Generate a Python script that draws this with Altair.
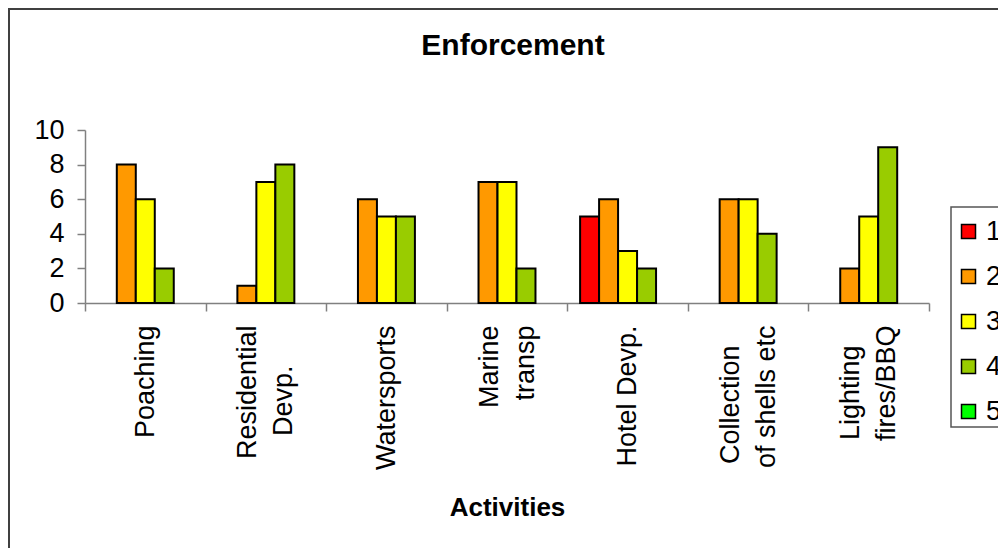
import json
import altair as alt
import pandas as pd

title_text = "Enforcement"
categories = ["Poaching", "Residential\nDevp.", "Watersports", "Marine\ntransp",
              "Hotel Devp.", "Collection\nof shells etc", "Lighting\nfires/BBQ"]
series = ["1", "2", "3", "4", "5"]
s1 = [0, 0, 0, 0, 5, 0, 0]
s2 = [8, 1, 6, 7, 6, 6, 2]
s3 = [6, 7, 5, 7, 3, 6, 5]
s4 = [2, 8, 5, 2, 2, 4, 9]
s5 = [0, 0, 0, 0, 0, 0, 0]
colors = ["#FF0000", "#FF9900", "#FFFF00", "#99CC00", "#00FF00"]
y_ticks = [0, 2, 4, 6, 8, 10]

rows = []
for name, vals in zip(series, [s1, s2, s3, s4, s5]):
    for c, v in zip(categories, vals):
        rows.append({"Activity": c, "Series": name, "Value": v})
df = pd.DataFrame(rows)

FONT = "Liberation Sans"
BLANK = "\u2800"   # blank glyph used to centre the shorter wrapped line
ZWSP = "\u200b"

# approximate Arial advance widths (1/1000 em) used to centre wrapped label lines
_w = {" ": 278, ".": 278, "/": 278, "a": 556, "b": 556, "c": 500, "d": 556, "e": 556,
      "f": 278, "g": 556, "h": 556, "i": 222, "l": 222, "m": 833, "n": 556, "o": 556,
      "p": 556, "r": 333, "s": 500, "t": 278, "v": 500, "B": 667, "C": 722, "D": 722,
      "H": 722, "L": 556, "M": 833, "P": 667, "Q": 778, "R": 722, "W": 944}


def text_w(s):
    return sum(_w.get(ch, 556) for ch in s)


label_lines = {}
for c in categories:
    parts = c.split("\n")
    if len(parts) == 1:
        label_lines[c] = ["", parts[0]]
    else:
        wmax = max(text_w(p) for p in parts)
        padded = []
        for p in parts:
            n = round((wmax - text_w(p)) / 2 / 600)
            padded.append(p + BLANK * n)
        label_lines[c] = [padded[0], ZWSP, padded[1]]

label_expr = json.dumps(label_lines, ensure_ascii=False) + "[datum.label]"

bars = alt.Chart(df).transform_filter("datum.Value > 0").mark_bar(
    stroke="black", strokeWidth=2
).encode(
    x=alt.X("Activity:N", sort=categories,
            scale=alt.Scale(paddingInner=0, paddingOuter=0),
            axis=alt.Axis(title="Activities", labelAngle=-90, labelAlign="right",
                          labelBaseline="middle",
                          labelExpr=label_expr, labelOffset=-18,
                          labelLineHeight=18, labelFontSize=27, labelPadding=14,
                          labelColor="black", labelFont=FONT,
                          tickBand="extent", tickSize=8, tickColor="#808080",
                          tickWidth=1.5, domainColor="#808080", domainWidth=1.5,
                          titleFont=FONT, titleFontSize=26, titleFontWeight="bold",
                          titleColor="black", titleY=212, titleBaseline="alphabetic",
                          labelLimit=0)),
    xOffset=alt.XOffset("Series:N", scale=alt.Scale(domain=series, paddingInner=0,
                                                    paddingOuter=0.675)),
    y=alt.Y("Value:Q", scale=alt.Scale(domain=[0, 10], nice=False),
            axis=alt.Axis(title=None, values=y_ticks, grid=False, labelFontSize=27,
                          labelFont=FONT, labelColor="black", labelPadding=13,
                          tickSize=8, tickColor="#808080", tickWidth=1.5,
                          domainColor="#808080", domainWidth=1.5)),
    color=alt.Color("Series:N", scale=alt.Scale(domain=series, range=colors),
                    legend=alt.Legend(title=None, orient="none", legendX=860, legendY=78,
                                      symbolType="square", symbolSize=196,
                                      symbolStrokeColor="black", symbolStrokeWidth=1.5,
                                      labelFontSize=27, labelFont=FONT, labelColor="black",
                                      labelOffset=4, rowPadding=17, padding=10)),
)

one = pd.DataFrame({"k": [1]})

frame = alt.Chart(one).mark_rect(
    filled=False, stroke="#404040", strokeWidth=2
).encode(
    x=alt.value(-76), x2=alt.value(1000), y=alt.value(-121), y2=alt.value(600)
)

legend_box = alt.Chart(one).mark_rect(
    fill="white", stroke="#555555", strokeWidth=1.5
).encode(
    x=alt.value(866), x2=alt.value(1000), y=alt.value(77), y2=alt.value(297)
)

title = alt.Chart(one).mark_text(
    font=FONT, fontSize=30, fontWeight="bold", color="black",
    align="center", baseline="alphabetic"
).encode(
    x=alt.value(428), y=alt.value(-75), text=alt.value(title_text)
)

chart = alt.layer(frame, legend_box, title, bars).properties(
    width=844, height=173,
    autosize=alt.AutoSizeParams(type="none"),
    padding={"left": 77, "top": 122, "right": 69, "bottom": 245},
).configure_view(stroke=None)

chart.save("out.html", embed_options={"renderer": "svg", "actions": False})
